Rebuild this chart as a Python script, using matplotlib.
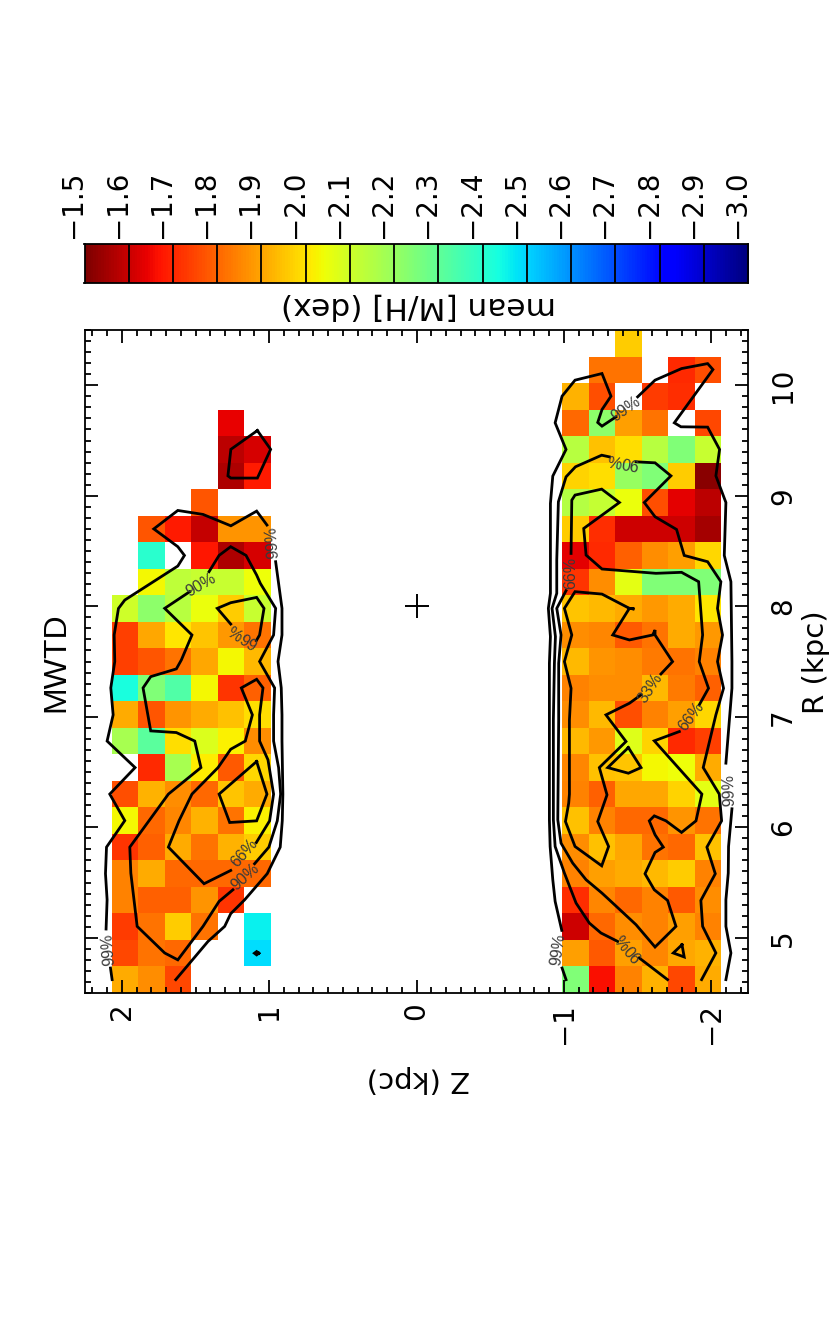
import numpy as np
import matplotlib
matplotlib.use("Agg")
import matplotlib.pyplot as plt
from matplotlib.ticker import MultipleLocator
from matplotlib.transforms import ScaledTranslation

plt.rcParams['font.family'] = ['DejaVu Sans']

n = np.nan

# mean [M/H] per bin, rows from R=10.5 down to R=4.5, columns from high Z to low Z
mh_upper = [
    [n, n, n, n, n, n],
    [n, n, n, n, n, n],
    [n, n, n, n, n, n],
    [n, n, n, n, -1.64, n],
    [n, n, n, n, -1.58, -1.615],
    [n, n, n, n, -1.56, -1.68],
    [n, n, n, -1.77, n, n],
    [n, -1.77, -1.68, -1.59, -1.87, -1.87],
    [n, -2.40, n, -1.67, -1.56, -1.615],
    [n, -2.03, -2.13, -2.11, -2.11, -2.04],
    [-2.10, -2.22, -2.14, -2.05, -1.96, -2.11],
    [-1.74, -1.90, -2.00, -1.95, -1.88, -1.82],
    [-1.74, -1.77, -1.82, -1.90, -2.03, -1.93],
    [-2.43, -2.24, -2.33, -2.03, -1.72, -1.79],
    [-1.91, -1.77, -1.87, -1.91, -1.94, -1.99],
    [-2.17, -2.31, -1.99, -2.08, -2.02, -1.86],
    [n, -1.70, -2.17, -2.01, -1.78, -1.98],
    [-1.76, -1.92, -1.86, -1.80, -1.95, -1.91],
    [-2.03, -1.80, -1.85, -1.92, -1.82, -2.02],
    [-1.72, -1.79, -1.91, -1.82, -1.92, -1.96],
    [-1.84, -1.91, -1.80, -1.80, -1.80, -1.80],
    [-1.84, -1.79, -1.79, -1.87, -1.72, n],
    [-1.73, -1.82, -1.96, -1.82, n, -2.46],
    [-1.75, -1.82, -1.80, n, n, -2.49],
    [-1.91, -1.86, -1.75, n, n, n],
]
mh_lower = [
    [n, n, -1.96, n, n, n],
    [n, -1.82, -1.82, n, -1.70, -1.76],
    [-1.92, -1.76, n, -1.73, -1.71, n],
    [-1.80, -2.22, -1.89, -1.82, n, -1.75],
    [-2.14, -1.94, -1.99, -2.14, -2.24, -2.11],
    [-1.97, -1.99, -2.20, -2.24, -1.96, -1.515],
    [-2.15, -2.12, -2.05, -1.76, -1.63, -1.58],
    [-1.96, -1.71, -1.60, -1.60, -1.60, -1.55],
    [-1.63, -1.70, -1.79, -1.86, -1.89, -1.98],
    [-1.72, -1.86, -2.06, -2.24, -2.24, -2.24],
    [-1.95, -1.93, -1.91, -1.88, -1.91, -2.00],
    [-1.86, -1.85, -1.78, -1.82, -1.91, -1.88],
    [-1.93, -1.87, -1.86, -1.83, -1.82, -1.84],
    [-1.84, -1.86, -1.86, -1.93, -1.83, -1.79],
    [-1.86, -1.93, -1.76, -1.84, -1.89, -1.98],
    [-1.93, -1.88, -2.07, -1.97, -1.70, -1.74],
    [-1.85, -1.94, -1.95, -2.03, -2.04, -1.91],
    [-1.84, -1.79, -1.90, -1.90, -1.97, -2.06],
    [-1.94, -1.84, -1.80, -1.80, -1.87, -1.82],
    [-1.86, -1.94, -1.90, -1.82, -1.80, -1.94],
    [-1.84, -1.89, -1.91, -1.93, -1.96, -1.84],
    [-1.71, -1.85, -1.80, -1.84, -1.78, -1.86],
    [-1.60, -1.80, -1.86, -1.84, -1.89, -1.84],
    [-1.89, -1.78, -1.89, -1.85, -1.90, -1.92],
    [-2.24, -1.66, -1.84, -1.92, -1.75, -1.91],
]

r_edges = np.linspace(4.5, 10.5, 26)
z_edges = np.linspace(2.25, -2.25, 26)

# contours as (Z, R) vertices
upper_33a = [(1.08, 9.59), (0.99, 9.42), (1.08, 9.16), (1.26, 9.16), (1.28, 9.18), (1.26, 9.42), (1.08, 9.59)]
upper_33b = [(1.085, 6.595), (1.34, 6.30), (1.268, 6.043), (1.085, 6.058), (1.015, 6.30), (1.085, 6.595)]
upper_66a = [(1.261, 7.839), (1.352, 7.981), (1.261, 8.032), (1.085, 8.08), (1.035, 7.981), (1.065, 7.74), (1.087, 7.689)]
upper_66b = [(1.087, 5.862), (0.997, 6.058), (0.97, 6.30), (1.008, 6.61), (1.065, 6.78), (1.065, 7.017),
             (1.042, 7.261), (1.085, 7.339), (1.189, 7.261), (1.114, 7.017), (1.162, 6.78), (1.261, 6.706),
             (1.347, 6.54), (1.524, 6.30), (1.612, 6.058), (1.684, 5.82), (1.442, 5.489), (1.261, 5.609)]
upper_90a = [(1.408, 8.313), (1.34, 8.46), (1.261, 8.539), (1.157, 8.46), (1.085, 8.282), (1.06, 8.207),
             (0.956, 7.981), (0.97, 7.74), (1.065, 7.50), (0.963, 7.261), (0.97, 7.017), (0.97, 6.78),
             (0.936, 6.54), (0.922, 6.30), (0.945, 6.058), (1.002, 5.82), (1.099, 5.67)]
upper_90b = [(1.246, 5.434), (1.34, 5.329), (1.449, 5.103), (1.62, 4.80), (1.709, 4.862), (1.896, 5.103),
             (1.939, 5.585), (1.946, 5.82), (1.684, 6.30), (1.463, 6.54), (1.505, 6.78), (1.63, 6.857),
             (1.804, 6.872), (1.856, 7.261), (1.804, 7.363), (1.63, 7.433), (1.596, 7.514), (1.524, 7.74),
             (1.709, 7.981), (1.539, 8.132)]
upper_99a = [(1.015, 8.735), (1.085, 8.861), (1.26, 8.728), (1.449, 8.831), (1.62, 8.867), (1.783, 8.70),
             (1.62, 8.539), (1.575, 8.46), (1.62, 8.364), (1.98, 8.056), (2.023, 7.98), (2.052, 7.74),
             (2.048, 7.50), (2.075, 7.261), (2.059, 7.017), (2.10, 6.78), (1.91, 6.54), (2.082, 6.30),
             (1.98, 6.06), (2.104, 5.82), (2.111, 5.58), (2.10, 5.344), (2.107, 5.079)]
upper_99b = [(2.077, 4.726), (2.066, 4.621)]
upper_99c = [(0.956, 8.403), (0.913, 7.981), (0.913, 7.74), (0.94, 7.50), (0.918, 7.261), (0.913, 7.017),
             (0.913, 6.78), (0.907, 6.30), (0.911, 6.06), (0.925, 5.82), (1.013, 5.58), (1.166, 5.344),
             (1.261, 5.218), (1.302, 5.103), (1.415, 4.967), (1.634, 4.621)]
upper_dot = [(1.07, 4.86), (1.085, 4.875), (1.10, 4.86), (1.085, 4.845), (1.07, 4.86)]

lower_33a = [(-1.524, 7.198), (-1.445, 7.122), (-1.286, 7.017), (-1.422, 6.776), (-1.241, 6.54), (-1.293, 6.293),
             (-1.23, 6.052), (-1.304, 5.826), (-1.257, 5.651), (-1.076, 5.826), (-1.011, 6.052), (-1.033, 6.218),
             (-1.038, 6.30), (-1.038, 6.76), (-1.038, 6.972), (-1.049, 7.258), (-1.004, 7.499), (-1.054, 7.74),
             (-1.004, 7.981), (-1.076, 8.132), (-1.259, 8.11), (-1.445, 7.981), (-1.479, 7.975), (-1.445, 7.981),
             (-1.332, 7.74), (-1.445, 7.695), (-1.603, 7.74), (-1.619, 7.785), (-1.619, 7.74), (-1.738, 7.499),
             (-1.659, 7.387)]
lower_33b = [(-1.438, 6.721), (-1.524, 6.54), (-1.438, 6.489), (-1.298, 6.54), (-1.438, 6.721)]
lower_33c = [(-1.802, 4.937), (-1.817, 4.826), (-1.743, 4.862), (-1.802, 4.937)]
lower_66a = [(-1.049, 8.478), (-1.054, 8.96), (-1.076, 9.006), (-1.257, 9.06), (-1.377, 8.939), (-1.135, 8.704),
             (-1.151, 8.463), (-1.259, 8.337), (-1.625, 8.298), (-1.799, 8.307), (-1.915, 8.222), (-1.942, 7.74),
             (-1.919, 7.499), (-1.982, 7.258), (-1.919, 7.107)]
lower_66b = [(-1.784, 6.866), (-1.614, 6.782), (-1.937, 6.30), (-1.897, 6.058), (-1.799, 5.953), (-1.693, 6.058),
             (-1.614, 6.103), (-1.58, 6.058), (-1.619, 5.932), (-1.675, 5.82), (-1.619, 5.772), (-1.551, 5.579),
             (-1.614, 5.434), (-1.704, 5.338), (-1.761, 5.103), (-1.619, 4.916), (-1.49, 5.118), (-1.332, 5.314),
             (-1.259, 5.404), (-1.151, 5.525), (-1.06, 5.676), (-0.981, 5.856), (-0.959, 6.067), (-0.965, 6.972),
             (-0.965, 7.484), (-0.981, 7.74), (-0.952, 7.981), (-1.015, 8.141)]
lower_90a = [(-1.309, 9.352), (-1.257, 9.367), (-1.079, 9.262), (-1.015, 9.171), (-0.963, 8.945), (-0.952, 8.418),
             (-0.952, 8.117), (-0.92, 7.981), (-0.943, 7.725), (-0.936, 7.484), (-0.929, 6.972), (-0.929, 6.067),
             (-0.941, 5.826), (-1.004, 5.585), (-1.083, 5.314), (-1.173, 5.133), (-1.252, 5.043), (-1.365, 4.967)]
lower_90b = [(-1.512, 4.817), (-1.704, 4.621)]
lower_90c = [(-1.49, 9.307), (-1.619, 9.298), (-1.727, 9.18), (-1.546, 8.939), (-1.619, 8.81), (-1.765, 8.695),
             (-1.817, 8.46), (-1.976, 8.403), (-2.066, 8.222), (-2.043, 7.981), (-2.077, 7.74), (-2.043, 7.499),
             (-2.084, 7.258), (-2.032, 7.017), (-1.946, 6.54), (-2.055, 6.30), (-2.071, 6.058), (-1.971, 5.82),
             (-2.028, 5.579), (-1.93, 5.338), (-1.942, 5.103), (-2.032, 4.862), (-1.935, 4.621)]
lower_99a = [(-1.354, 9.714), (-1.259, 9.63), (-1.23, 9.663), (-1.259, 9.78), (-1.32, 9.901), (-1.259, 10.106),
             (-1.076, 10.046), (-0.988, 9.901), (-0.941, 9.66), (-1.015, 9.419), (-0.925, 9.178), (-0.909, 8.93),
             (-0.909, 8.418), (-0.909, 8.117), (-0.895, 7.981), (-0.909, 7.725), (-0.902, 7.484), (-0.902, 6.972),
             (-0.902, 6.52), (-0.902, 6.067), (-0.907, 5.826), (-0.925, 5.525), (-0.941, 5.329), (-0.986, 5.067)]
lower_99b = [(-0.988, 4.726), (-1.015, 4.621)]
lower_99c = [(-1.501, 9.895), (-1.619, 10.046), (-1.799, 10.151), (-1.976, 10.196), (-2.012, 10.142), (-1.75, 9.66),
             (-1.795, 9.624), (-1.976, 9.621), (-2.057, 9.419), (-2.032, 9.18), (-2.1, 8.939), (-2.089, 8.46),
             (-2.134, 8.222), (-2.141, 7.499), (-2.141, 7.258), (-2.1, 6.58)]
lower_99d = [(-2.141, 6.167), (-2.118, 5.826), (-2.116, 5.585), (-2.1, 5.344), (-2.1, 5.103), (-2.134, 4.862),
             (-2.1, 4.621)]

contours = [upper_33a, upper_33b, upper_66a, upper_66b, upper_90a, upper_90b, upper_99a, upper_99b, upper_99c,
            upper_dot, lower_33a, lower_33b, lower_33c, lower_66a, lower_66b, lower_90a, lower_90b, lower_90c,
            lower_99a, lower_99b, lower_99c, lower_99d]

# contour labels: text, Z, R, angle
label_text = ["99%", "90%", "66%", "66%", "90%", "99%", "99%", "90%", "66%", "33%", "66%", "90%", "99%", "99%"]
label_z = [0.981, 1.465, 1.178, 1.166, 1.166, 2.093, -1.422, -1.40, -1.049, -1.591, -1.863, -1.445, -0.959, -2.122]
label_r = [8.575, 8.192, 7.74, 5.766, 5.555, 4.898, 9.78, 9.322, 8.297, 7.258, 7.002, 4.922, 4.892, 6.339]
label_rot = [95, 30, 147, 49, 42, 95, 35, 170, 90, 57, 53, 130, 82, 92]

cbar_ticks = [-1.5, -1.6, -1.7, -1.8, -1.9, -2.0, -2.1, -2.2, -2.3, -2.4, -2.5, -2.6, -2.7, -2.8, -2.9, -3.0]
r_ticks = [5, 6, 7, 8, 9, 10]
z_ticks = [2, 1, 0, -1, -2]

W, H = 830, 1329
fig = plt.figure(figsize=(W / 100, H / 100), dpi=100)
ax = fig.add_axes([85 / W, 1 - 993 / H, 663 / W, 663 / H])
cax = fig.add_axes([84.5 / W, 1 - 283 / H, 663.5 / W, 39 / H])

grid = np.full((25, 25), np.nan)
grid[:, 1:7] = np.array(mh_upper)
grid[:, 18:24] = np.array(mh_lower)
grid = grid[::-1]  # first row is R=4.5 now

ax.pcolormesh(z_edges, r_edges, grid, cmap='jet', vmin=-3.0, vmax=-1.5, antialiased=False)

for c in contours:
    c = np.array(c)
    ax.plot(c[:, 0], c[:, 1], color='k', lw=2.0, solid_joinstyle='miter')

for t, z, r, rot in zip(label_text, label_z, label_r, label_rot):
    ax.text(z, r, t, fontsize=11.5, family='Liberation Sans', color='#3a3a3a', rotation=rot,
            ha='center', va='center', rotation_mode='anchor')

ax.plot(0, 8, marker='+', color='k', ms=17, mew=1.4)

ax.set_xlim(2.25, -2.25)
ax.set_ylim(4.5, 10.5)
ax.set_xticks(z_ticks)
ax.set_xticklabels([str(z).replace('-', '\u2212') for z in z_ticks])
ax.set_yticks(r_ticks)
ax.xaxis.set_minor_locator(MultipleLocator(0.1))
ax.yaxis.set_minor_locator(MultipleLocator(0.1))
ax.tick_params(which='both', direction='in', top=True, bottom=True, left=True, right=True,
               labelleft=False, labelright=True, width=1.3)
ax.tick_params(which='major', length=9.5, labelsize=20)
ax.tick_params(which='minor', length=4.5)
ax.tick_params(axis='x', labelrotation=90, pad=7)
ax.tick_params(axis='y', labelrotation=90, pad=15)
for lab in ax.get_yticklabels():
    lab.set_va('center')
for s in ax.spines.values():
    s.set_linewidth(1.3)

fig.text(816 / W, 1 - 662 / H, "R (kpc)", fontsize=21, rotation=90, ha='center', va='center')
fig.text(56 / W, 1 - 662 / H, "MWTD", fontsize=23, family='Liberation Sans', rotation=90, ha='center', va='center')
fig.text(418 / W, 1 - 1079 / H, "Z (kpc)", fontsize=21, rotation=180, ha='center', va='center')
fig.text(418 / W, 1 - 306 / H, "mean [M/H] (dex)", fontsize=22.5, rotation=180, ha='center', va='center')

# colorbar
grad = np.linspace(-1.5, -3.0, 664).reshape(1, -1)
cax.imshow(grad, cmap='jet', vmin=-3.0, vmax=-1.5, aspect='auto', extent=[-1.5, -3.0, 0, 1])
for v in cbar_ticks[1:-1]:
    cax.axvline(v, color='k', lw=1.3)
cax.set_xlim(-1.5, -3.0)
cax.set_yticks([])
cax.xaxis.tick_top()
cax.set_xticks(cbar_ticks)
cax.set_xticklabels(['\u2212%.1f' % abs(v) for v in cbar_ticks], rotation=90, ha='right', fontsize=20)
cax.tick_params(axis='x', length=0, pad=4)
# labels sit slightly to the right in the original
shift = ScaledTranslation(3 / 100, 0, fig.dpi_scale_trans)
for lab in cax.get_xticklabels():
    lab.set_transform(lab.get_transform() + shift)
for s in cax.spines.values():
    s.set_linewidth(1.3)

fig.savefig("out.png", dpi=100)
